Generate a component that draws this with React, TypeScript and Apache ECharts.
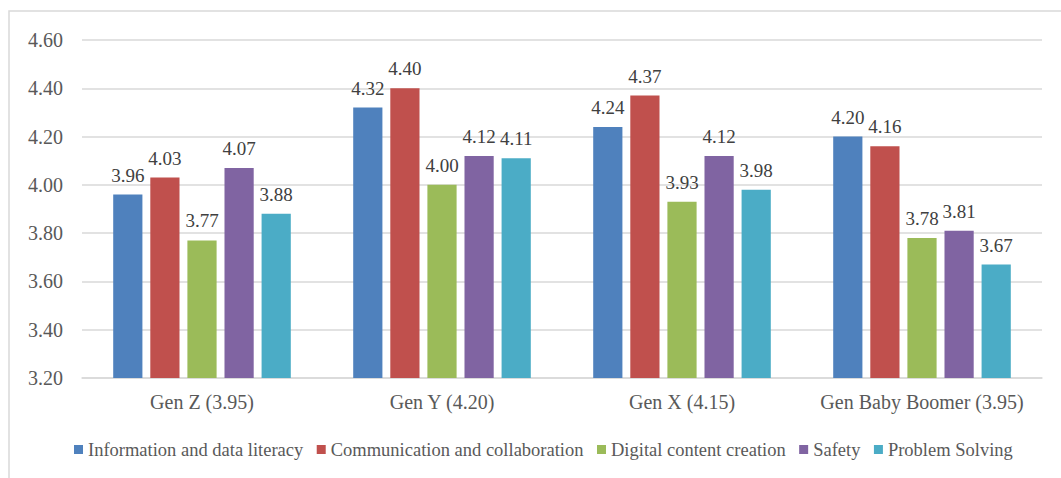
import React, { useEffect, useRef, useState } from "react";
import * as echarts from "echarts";

const categories = ["Gen Z (3.95)", "Gen Y (4.20)", "Gen X (4.15)", "Gen Baby Boomer (3.95)"];
const seriesNames = [
  "Information and data literacy",
  "Communication and collaboration",
  "Digital content creation",
  "Safety",
  "Problem Solving",
];
const infoData = [3.96, 4.32, 4.24, 4.2];
const commData = [4.03, 4.4, 4.37, 4.16];
const digitalData = [3.77, 4.0, 3.93, 3.78];
const safetyData = [4.07, 4.12, 4.12, 3.81];
const problemData = [3.88, 4.11, 3.98, 3.67];
const colors = ["#4F81BD", "#C0504D", "#9BBB59", "#8064A2", "#4BACC6"];

const FONT = "Liberation Serif";

export default function App() {
  const ref = useRef<HTMLDivElement>(null);
  const [ready, setReady] = useState(0);
  useEffect(() => {
    if (!ref.current) return;
    const chart = echarts.init(ref.current, undefined, { renderer: "svg" });
    const allData = [infoData, commData, digitalData, safetyData, problemData];
    const option = {
      animation: false,
      graphic: [
        {
          type: "rect",
          shape: { x: 9, y: 11, width: 1200, height: 600 },
          style: { fill: "none", stroke: "#D9D9D9", lineWidth: 1.5 },
          silent: true,
        },
      ],
      legend: {
        data: seriesNames,
        left: 69,
        top: 435,
        itemWidth: 9,
        itemHeight: 9,
        itemGap: 13.5,
        icon: "rect",
        textStyle: { fontFamily: FONT, fontSize: 18.5, color: "#595959" },
      },
      grid: { left: 82, right: 19, top: 40, bottom: 100, containLabel: false },
      xAxis: {
        type: "category",
        data: categories,
        axisLine: { lineStyle: { color: "#D9D9D9", width: 1.5 } },
        axisTick: { show: false },
        axisLabel: { fontFamily: FONT, fontSize: 20, color: "#595959", margin: 14, interval: 0 },
      },
      yAxis: {
        type: "value",
        min: 3.2,
        max: 4.6,
        interval: 0.2,
        axisLabel: {
          fontFamily: FONT,
          fontSize: 20,
          color: "#595959",
          margin: 19,
          formatter: (v: number) => v.toFixed(2),
        },
        splitLine: { lineStyle: { color: "#D9D9D9", width: 1.5 } },
      },
      series: allData.map((d, i) => ({
        name: seriesNames[i],
        type: "bar",
        data: d,
        barGap: "27%",
        barCategoryGap: "26%",
        itemStyle: { color: colors[i] },
        label: {
          show: true,
          position: "top",
          distance: 10,
          fontFamily: FONT,
          fontSize: 19,
          color: "#404040",
          formatter: (p: any) => Number(p.value).toFixed(2),
        },
      })),
    };
    chart.setOption(option);
    setReady(1);
    let alive = true;
    const redraw = () => {
      if (!alive) return;
      chart.setOption(option, true);
      setReady((r) => r + 1);
    };
    const t1 = setTimeout(redraw, 60);
    const t2 = setTimeout(redraw, 250);
    const fonts = (document as any).fonts;
    if (fonts && fonts.load) {
      fonts.load("20px 'Liberation Serif'").then(redraw).catch(() => {});
    }
    return () => {
      alive = false;
      clearTimeout(t1);
      clearTimeout(t2);
      chart.dispose();
    };
  }, []);
  return (
    <div>
      <div
        ref={ref}
        style={{ width: 1061, height: 478, position: "absolute", left: 0, top: 0, background: "#fff", fontFamily: FONT }}
      />
      <span
        aria-hidden="true"
        style={{ position: "absolute", left: 0, top: 0, fontFamily: FONT, fontSize: 1, color: "transparent", zIndex: -1 }}
      >
        {ready > 0 ? "\u00A0" : ""}
      </span>
    </div>
  );
}
